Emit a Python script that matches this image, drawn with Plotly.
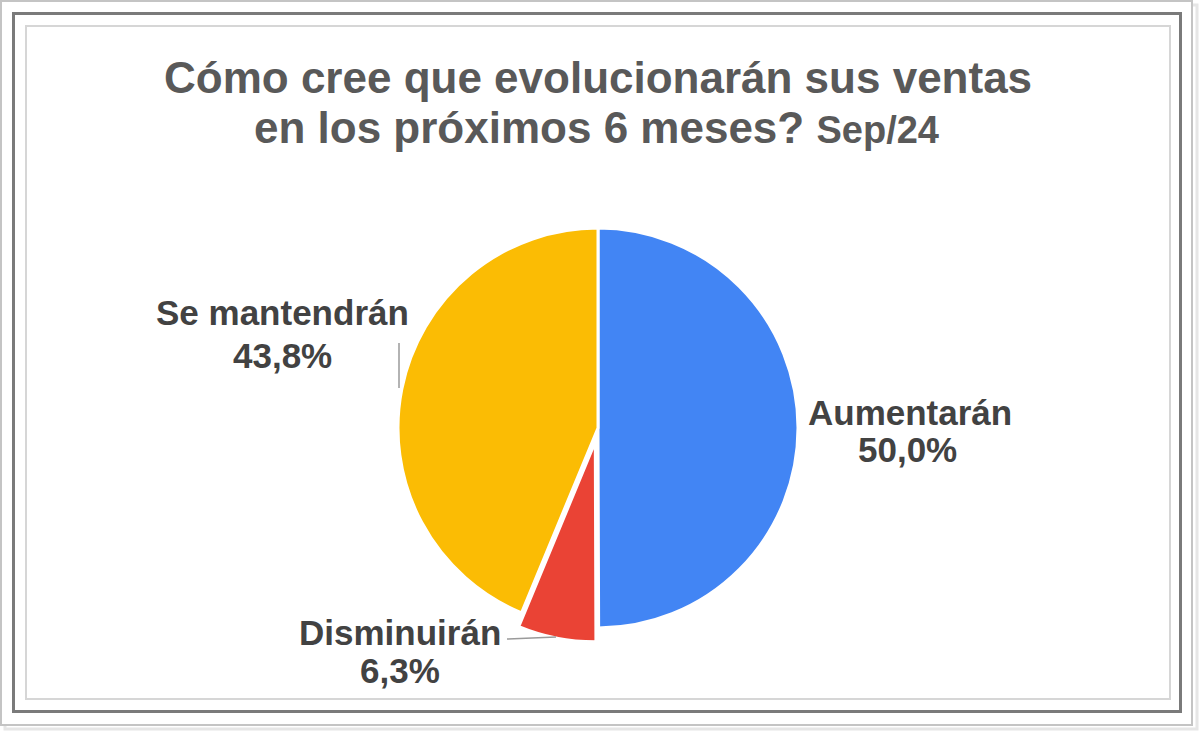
import plotly.graph_objects as go

# ---- data ----
categories = ["Aumentarán", "Disminuirán", "Se mantendrán"]
values = [50.0, 6.3, 43.8]
colors = ["#4285F4", "#EA4335", "#FBBC04"]
pulls = [0, 0.07, 0]
title_line1 = "Cómo cree que evolucionarán sus ventas"
title_line2 = "en los próximos 6 meses?"
title_period = "Sep/24"

W, H = 1200, 733


def px(x):
    return x / W


def py(y):
    return 1 - y / H


fig = go.Figure()
fig.add_trace(go.Pie(
    labels=categories,
    values=values,
    sort=False,
    direction="clockwise",
    rotation=0,
    pull=pulls,
    marker=dict(colors=colors, line=dict(color="white", width=3)),
    textinfo="none",
    showlegend=False,
    domain=dict(x=[px(384), px(812)], y=[py(642), py(214)]),
))

# label placement (pixel centers) for name and value lines
label_pos = {
    "Aumentarán": ((910, 412), (907, 450)),
    "Se mantendrán": ((282, 312), (282, 355)),
    "Disminuirán": ((400, 632), (400, 670)),
}
label_font = dict(family="Arial, Liberation Sans, sans-serif", size=35, color="#424242")
annotations = []
for cat, val in zip(categories, values):
    (nx, ny), (vx, vy) = label_pos[cat]
    annotations.append(dict(x=px(nx), y=py(ny), xref="paper", yref="paper",
                            text=f"<b>{cat}</b>", showarrow=False,
                            xanchor="center", yanchor="middle", font=label_font))
    annotations.append(dict(x=px(vx), y=py(vy), xref="paper", yref="paper",
                            text="<b>" + f"{val:.1f}".replace(".", ",") + "%</b>",
                            showarrow=False, xanchor="center", yanchor="middle",
                            font=label_font))

title_font = dict(family="Arial, Liberation Sans, sans-serif", size=44, color="#595959")
annotations.append(dict(x=px(598), y=py(77), xref="paper", yref="paper",
                        text=f"<b>{title_line1}</b>", showarrow=False,
                        xanchor="center", yanchor="middle", font=title_font))
annotations.append(dict(x=px(596), y=py(127), xref="paper", yref="paper",
                        text=f"<b>{title_line2} <span style='font-size:38px'>{title_period}</span></b>",
                        showarrow=False, xanchor="center", yanchor="middle", font=title_font))

shapes = []
# shadow
shapes.append(dict(type="rect", xref="paper", yref="paper",
                   x0=px(5), x1=px(1197), y0=py(729), y1=py(5),
                   line=dict(color="#e6e6e6", width=3), layer="below"))
# outer light frame
shapes.append(dict(type="rect", xref="paper", yref="paper",
                   x0=px(1), x1=px(1192), y0=py(725), y1=py(1),
                   line=dict(color="#c4c4c4", width=2), fillcolor="white", layer="below"))
# dark frame
shapes.append(dict(type="rect", xref="paper", yref="paper",
                   x0=px(13.5), x1=px(1180.5), y0=py(711.5), y1=py(13.5),
                   line=dict(color="#7a7a7a", width=3), layer="below"))
# inner light frame
shapes.append(dict(type="rect", xref="paper", yref="paper",
                   x0=px(26), x1=px(1170), y0=py(699), y1=py(26),
                   line=dict(color="#d6d6d6", width=2), layer="below"))
# leader lines
shapes.append(dict(type="line", xref="paper", yref="paper",
                   x0=px(399), x1=px(399), y0=py(343), y1=py(388),
                   line=dict(color="#9a9a9a", width=1.5)))
shapes.append(dict(type="line", xref="paper", yref="paper",
                   x0=px(507), x1=px(556), y0=py(639), y1=py(637),
                   line=dict(color="#9a9a9a", width=1.5)))

fig.update_layout(
    width=W, height=H,
    margin=dict(l=0, r=0, t=0, b=0),
    paper_bgcolor="white",
    plot_bgcolor="white",
    annotations=annotations,
    shapes=shapes,
)

fig.write_html("out.html")
